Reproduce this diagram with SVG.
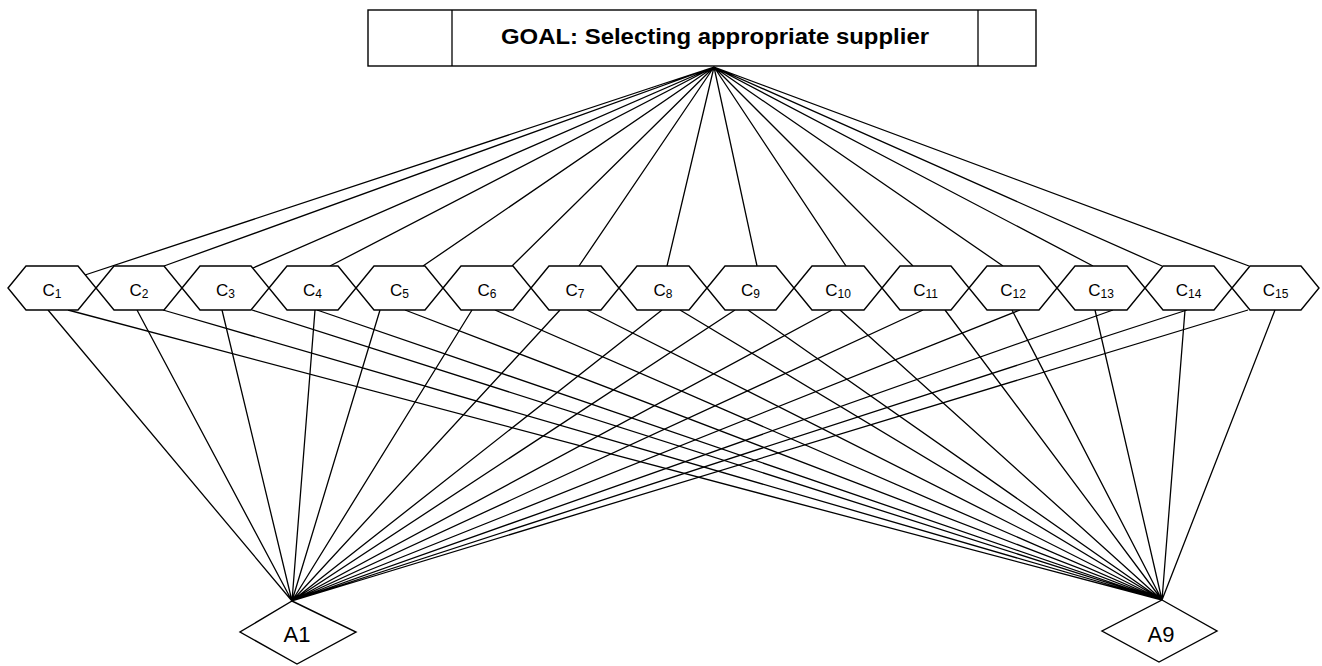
<svg xmlns="http://www.w3.org/2000/svg" width="1322" height="666" viewBox="0 0 1322 666">
<style>
.shape{fill:#fff;stroke:#000;stroke-width:1.4}
.ln{stroke:#000;stroke-width:1.3;fill:none}
.lbl{font-family:"Liberation Sans",Arial,sans-serif;font-size:17px;fill:#000;text-anchor:middle}
.sub{font-size:12px}
.alt{font-family:"Liberation Sans",Arial,sans-serif;font-size:22px;fill:#000;text-anchor:middle}
.goal{font-family:"Liberation Sans",Arial,sans-serif;font-size:22px;font-weight:bold;fill:#000;text-anchor:middle}
</style>
<rect width="1322" height="666" fill="#fff"/>
<g id="connectors" class="ln">
<path d="M714,67L85,275M714,67L164,266M714,67L253,268M714,67L330,266M714,67L423,266M714,67L512,266M714,67L579,266M714,67L667,266M714,67L757,266M714,67L846,266M714,67L913,266M714,67L1003,266M714,67L1093,266M714,67L1162,266M714,67L1249,266"/>
<path d="M48,310L292,601M137,310L292,601M222,310L292,601M315,310L292,601M380,310L292,601M472,310L292,601M560,310L292,601M662,310L292,601M735,310L292,601M832,310L292,601M923,310L292,601M1020,310L292,601M1113,310L292,601M1187,310L292,601M1248,310L292,601"/>
<path d="M68,310L1162,600M163,310L1162,600M252,310L1162,600M317,310L1162,600M405,310L1162,600M495,310L1162,600M587,310L1162,600M680,310L1162,600M748,310L1162,600M840,310L1162,600M945,310L1162,600M1012,310L1162,600M1095,310L1162,600M1185,310L1162,600M1275,310L1162,600"/>
</g>
<g id="goal">
<rect class="shape" x="368" y="10" width="668" height="56"/>
<line class="ln" x1="452" y1="10" x2="452" y2="66"/>
<line class="ln" x1="978" y1="10" x2="978" y2="66"/>
<text class="goal" x="715" y="44" textLength="428" lengthAdjust="spacingAndGlyphs">GOAL: Selecting appropriate supplier</text>
</g>
<g id="C1"><polygon class="shape" points="8,288 26,266 78,266 96,288 78,310 26,310"/><text class="lbl" x="52" y="296">C<tspan class="sub" dy="2">1</tspan></text></g>
<g id="C2"><polygon class="shape" points="96,288 114,266 164,266 182,288 164,310 114,310"/><text class="lbl" x="139" y="296">C<tspan class="sub" dy="2">2</tspan></text></g>
<g id="C3"><polygon class="shape" points="182,288 200,266 251,266 269,288 251,310 200,310"/><text class="lbl" x="225.5" y="296">C<tspan class="sub" dy="2">3</tspan></text></g>
<g id="C4"><polygon class="shape" points="269,288 287,266 338,266 356,288 338,310 287,310"/><text class="lbl" x="312.5" y="296">C<tspan class="sub" dy="2">4</tspan></text></g>
<g id="C5"><polygon class="shape" points="356,288 374,266 425,266 443,288 425,310 374,310"/><text class="lbl" x="399.5" y="296">C<tspan class="sub" dy="2">5</tspan></text></g>
<g id="C6"><polygon class="shape" points="443,288 461,266 513,266 531,288 513,310 461,310"/><text class="lbl" x="487" y="296">C<tspan class="sub" dy="2">6</tspan></text></g>
<g id="C7"><polygon class="shape" points="531,288 549,266 601,266 619,288 601,310 549,310"/><text class="lbl" x="575" y="296">C<tspan class="sub" dy="2">7</tspan></text></g>
<g id="C8"><polygon class="shape" points="619,288 637,266 689,266 707,288 689,310 637,310"/><text class="lbl" x="663" y="296">C<tspan class="sub" dy="2">8</tspan></text></g>
<g id="C9"><polygon class="shape" points="707,288 725,266 776,266 794,288 776,310 725,310"/><text class="lbl" x="750.5" y="296">C<tspan class="sub" dy="2">9</tspan></text></g>
<g id="C10"><polygon class="shape" points="794,288 812,266 864,266 882,288 864,310 812,310"/><text class="lbl" x="838" y="296">C<tspan class="sub" dy="2">10</tspan></text></g>
<g id="C11"><polygon class="shape" points="882,288 900,266 951,266 969,288 951,310 900,310"/><text class="lbl" x="925.5" y="296">C<tspan class="sub" dy="2">11</tspan></text></g>
<g id="C12"><polygon class="shape" points="969,288 987,266 1039,266 1057,288 1039,310 987,310"/><text class="lbl" x="1013" y="296">C<tspan class="sub" dy="2">12</tspan></text></g>
<g id="C13"><polygon class="shape" points="1057,288 1075,266 1127,266 1145,288 1127,310 1075,310"/><text class="lbl" x="1101" y="296">C<tspan class="sub" dy="2">13</tspan></text></g>
<g id="C14"><polygon class="shape" points="1145,288 1163,266 1214,266 1232,288 1214,310 1163,310"/><text class="lbl" x="1188.5" y="296">C<tspan class="sub" dy="2">14</tspan></text></g>
<g id="C15"><polygon class="shape" points="1232,288 1250,266 1301,266 1319,288 1301,310 1250,310"/><text class="lbl" x="1275.5" y="296">C<tspan class="sub" dy="2">15</tspan></text></g>
<g id="A1"><polygon class="shape" points="292,601 356,632 297,664 240,632"/><text class="alt" x="297" y="642">A1</text></g>
<g id="A9"><polygon class="shape" points="1162,600 1217,631 1159,662 1102,631"/><text class="alt" x="1161" y="642">A9</text></g>
</svg>
